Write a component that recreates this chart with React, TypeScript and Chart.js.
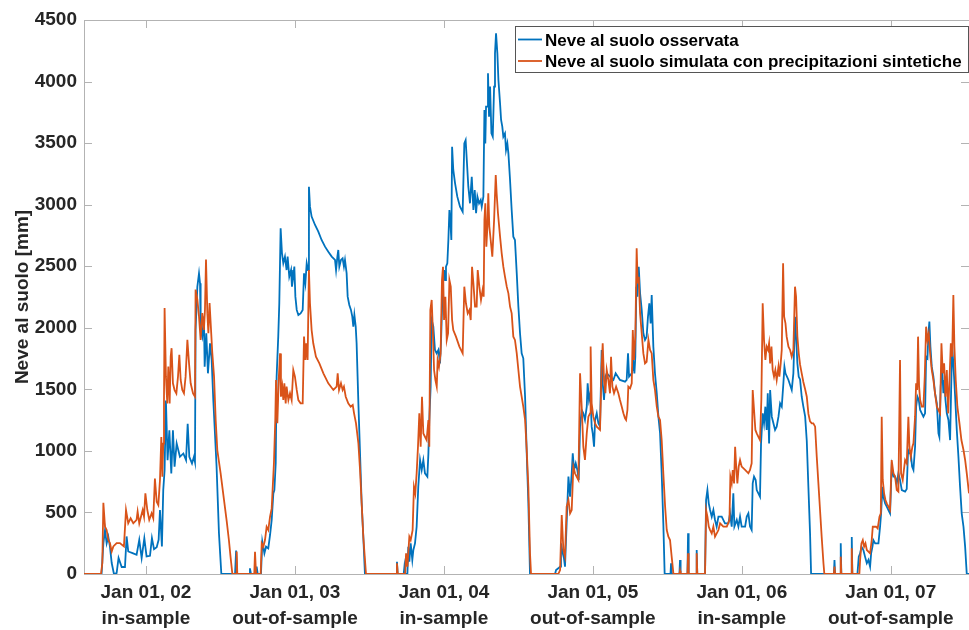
import React, { useEffect, useRef } from "react";
import { Chart, registerables } from "chart.js";

Chart.register(...registerables);

type P = [number, number];

// x = decimal year, y = snow depth [mm]
const obs0102: P[] = [[2001.584,0],[2001.702,0],[2001.714,249],[2001.725,357],[2001.736,249],[2001.747,303],[2001.758,224],[2001.770,89],[2001.785,0],[2001.803,8],[2001.816,130],[2001.837,57],[2001.859,57],[2001.870,305],[2001.881,183],[2001.910,170],[2001.937,156],[2001.955,278],[2001.971,130],[2001.989,291],[2002.004,143],[2002.027,148],[2002.040,291],[2002.054,202],[2002.072,218],[2002.085,278],[2002.094,520],[2002.107,224],[2002.116,682],[2002.125,844],[2002.134,1410],[2002.145,925],[2002.157,1167],[2002.170,817],[2002.181,1167],[2002.192,871],[2002.206,1060],[2002.228,952],[2002.251,979],[2002.269,925],[2002.280,1221],[2002.291,952],[2002.309,898],[2002.322,952],[2002.329,910],[2002.333,1982],[2002.345,2334],[2002.356,2442],[2002.363,2361],[2002.367,1982],[2002.378,1928],[2002.389,2091],[2002.394,1684],[2002.405,1955],[2002.416,1630],[2002.430,1873],[2002.441,1738],[2002.452,1413],[2002.463,1143],[2002.474,871],[2002.490,330],[2002.506,0],[2002.598,0],[2002.605,190],[2002.612,0]];
const sim0102: P[] = [[2001.584,0],[2001.698,0],[2001.707,89],[2001.714,579],[2001.725,385],[2001.736,358],[2001.747,278],[2001.758,251],[2001.770,183],[2001.781,224],[2001.803,251],[2001.825,251],[2001.852,224],[2001.866,520],[2001.881,412],[2001.897,453],[2001.915,412],[2001.937,439],[2001.944,507],[2001.955,412],[2001.978,520],[2001.987,466],[2001.996,655],[2002.009,520],[2002.022,439],[2002.038,493],[2002.049,453],[2002.060,776],[2002.072,587],[2002.083,560],[2002.094,763],[2002.103,1113],[2002.110,790],[2002.116,1059],[2002.121,1413],[2002.125,2160],[2002.134,1603],[2002.143,1386],[2002.150,1685],[2002.159,1386],[2002.166,1766],[2002.172,1834],[2002.181,1549],[2002.192,1494],[2002.204,1467],[2002.215,1603],[2002.224,1780],[2002.233,1576],[2002.244,1494],[2002.255,1467],[2002.266,1603],[2002.278,1902],[2002.289,1712],[2002.300,1549],[2002.316,1467],[2002.329,1440],[2002.333,2310],[2002.345,2228],[2002.356,2092],[2002.367,1902],[2002.378,2119],[2002.389,1983],[2002.396,2146],[2002.403,2554],[2002.412,2119],[2002.419,1956],[2002.427,2200],[2002.436,2000],[2002.445,1800],[2002.457,1603],[2002.468,1250],[2002.479,1005],[2002.501,820],[2002.524,600],[2002.542,430],[2002.557,272],[2002.568,136],[2002.580,0],[2002.605,0],[2002.609,183],[2002.613,0]];

const obs0203: P[] = [[2002.694,0],[2002.698,46],[2002.705,0],[2002.739,0],[2002.743,60],[2002.750,0],[2002.772,0],[2002.781,263],[2002.795,168],[2002.806,222],[2002.821,208],[2002.833,317],[2002.844,439],[2002.855,655],[2002.862,682],[2002.871,899],[2002.877,1603],[2002.888,1928],[2002.895,2199],[2002.904,2808],[2002.913,2605],[2002.922,2524],[2002.933,2578],[2002.944,2469],[2002.951,2578],[2002.962,2415],[2002.974,2469],[2002.980,2334],[2002.989,2415],[2002.996,2497],[2003.003,2253],[2003.012,2145],[2003.023,2104],[2003.038,2117],[2003.052,2145],[2003.061,2442],[2003.070,2361],[2003.079,2524],[2003.088,2469],[2003.094,3146],[2003.101,2984],[2003.112,2903],[2003.135,2835],[2003.157,2781],[2003.179,2713],[2003.202,2659],[2003.224,2618],[2003.247,2578],[2003.269,2551],[2003.276,2469],[2003.285,2578],[2003.291,2632],[2003.298,2497],[2003.309,2551],[2003.320,2564],[2003.329,2497],[2003.336,2551],[2003.347,2442],[2003.354,2253],[2003.365,2185],[2003.376,2145],[2003.385,2090],[2003.392,2009],[2003.399,2104],[2003.408,2009],[2003.414,1874],[2003.426,1386],[2003.437,980],[2003.448,574],[2003.459,303],[2003.470,0],[2003.679,0],[2003.685,100],[2003.690,0],[2003.730,0],[2003.735,60],[2003.740,0]];
const sim0203: P[] = [[2002.727,0],[2002.732,181],[2002.739,0],[2002.770,0],[2002.777,249],[2002.788,222],[2002.799,276],[2002.810,384],[2002.821,357],[2002.833,466],[2002.844,533],[2002.850,682],[2002.859,899],[2002.868,1251],[2002.873,1576],[2002.882,1224],[2002.891,1576],[2002.900,1792],[2002.906,1440],[2002.915,1522],[2002.922,1413],[2002.929,1549],[2002.938,1386],[2002.944,1522],[2002.956,1413],[2002.967,1468],[2002.978,1413],[2002.989,1657],[2003.000,1603],[2003.012,1495],[2003.023,1413],[2003.038,1386],[2003.052,1386],[2003.061,1928],[2003.070,1738],[2003.076,1874],[2003.085,1738],[2003.094,2469],[2003.101,2199],[2003.112,1982],[2003.123,1874],[2003.141,1765],[2003.164,1711],[2003.191,1630],[2003.224,1549],[2003.258,1495],[2003.280,1522],[2003.287,1630],[2003.296,1495],[2003.309,1549],[2003.320,1495],[2003.329,1522],[2003.341,1440],[2003.358,1386],[2003.374,1359],[2003.388,1373],[2003.397,1305],[2003.410,1224],[2003.426,1061],[2003.437,845],[2003.448,574],[2003.459,303],[2003.477,0],[2003.679,0],[2003.685,87],[2003.690,0]];

const obs0304: P[] = [[2003.755,0],[2003.761,222],[2003.768,100],[2003.777,249],[2003.788,114],[2003.795,195],[2003.806,249],[2003.817,384],[2003.828,709],[2003.840,926],[2003.851,845],[2003.862,926],[2003.873,818],[2003.889,791],[2003.896,980],[2003.902,1251],[2003.911,1522],[2003.918,2063],[2003.929,2009],[2003.940,1820],[2003.952,1792],[2003.963,1820],[2003.974,1711],[2003.981,1901],[2003.992,2334],[2004.001,2469],[2004.008,2388],[2004.014,2496],[2004.023,2523],[2004.030,2713],[2004.037,2957],[2004.043,2876],[2004.050,2713],[2004.055,3471],[2004.063,3282],[2004.075,3173],[2004.090,3065],[2004.108,2984],[2004.126,2943],[2004.137,3498],[2004.146,3525],[2004.155,3336],[2004.164,3146],[2004.175,3011],[2004.187,3227],[2004.198,2957],[2004.207,3119],[2004.216,2930],[2004.225,3065],[2004.236,3011],[2004.247,3038],[2004.254,2984],[2004.265,3065],[2004.272,3769],[2004.278,3498],[2004.283,3796],[2004.290,3796],[2004.296,4067],[2004.303,3715],[2004.310,3959],[2004.319,3579],[2004.328,3552],[2004.337,3959],[2004.343,4229],[2004.350,4392],[2004.359,4229],[2004.366,4013],[2004.377,3823],[2004.384,3688],[2004.392,3634],[2004.399,3552],[2004.410,3579],[2004.417,3444],[2004.426,3498],[2004.433,3417],[2004.444,3200],[2004.455,2957],[2004.466,2740],[2004.477,2713],[2004.489,2442],[2004.500,2172],[2004.511,1955],[2004.522,1792],[2004.533,1752],[2004.545,1440],[2004.556,980],[2004.567,574],[2004.578,0]];
const sim0304: P[] = [[2003.740,0],[2003.746,168],[2003.755,60],[2003.768,303],[2003.777,276],[2003.790,357],[2003.799,709],[2003.808,655],[2003.817,818],[2003.826,1034],[2003.835,1305],[2003.844,1034],[2003.853,1440],[2003.862,1142],[2003.873,1115],[2003.884,1088],[2003.896,1251],[2003.902,1034],[2003.909,2144],[2003.918,2226],[2003.925,2009],[2003.934,1657],[2003.943,1576],[2003.952,1522],[2003.958,1738],[2003.967,1684],[2003.978,1792],[2003.987,2388],[2003.994,2496],[2004.001,2063],[2004.010,2252],[2004.019,1901],[2004.028,1955],[2004.037,2388],[2004.046,2334],[2004.055,2063],[2004.063,1982],[2004.081,1928],[2004.104,1847],[2004.126,1792],[2004.137,2334],[2004.148,2199],[2004.160,2117],[2004.171,2144],[2004.180,2063],[2004.189,2496],[2004.198,2361],[2004.209,2172],[2004.220,2172],[2004.227,2469],[2004.238,2334],[2004.249,2226],[2004.260,2307],[2004.267,2253],[2004.272,2876],[2004.278,3011],[2004.285,2659],[2004.292,2822],[2004.298,3092],[2004.305,2822],[2004.314,2713],[2004.325,2578],[2004.337,2876],[2004.348,3240],[2004.354,3092],[2004.363,2930],[2004.377,2740],[2004.388,2605],[2004.399,2496],[2004.410,2415],[2004.422,2334],[2004.433,2280],[2004.444,2172],[2004.455,2117],[2004.466,1928],[2004.477,1901],[2004.489,1792],[2004.500,1657],[2004.511,1522],[2004.522,1440],[2004.533,1359],[2004.545,1251],[2004.556,1007],[2004.567,709],[2004.578,168],[2004.585,0]];

const obs0405: P[] = [[2004.746,0],[2004.753,32],[2004.768,46],[2004.780,60],[2004.786,249],[2004.798,168],[2004.806,127],[2004.813,60],[2004.824,412],[2004.836,791],[2004.847,628],[2004.858,818],[2004.865,980],[2004.874,845],[2004.885,899],[2004.896,845],[2004.905,764],[2004.914,1197],[2004.925,1332],[2004.936,1305],[2004.947,1251],[2004.959,1359],[2004.965,1549],[2004.974,1413],[2004.983,1468],[2004.992,1197],[2004.999,1143],[2005.008,1034],[2005.015,1251],[2005.026,1305],[2005.037,1224],[2005.048,1197],[2005.059,1820],[2005.066,1549],[2005.075,1413],[2005.084,1603],[2005.093,1630],[2005.115,1603],[2005.138,1576],[2005.153,1630],[2005.182,1576],[2005.216,1562],[2005.227,1576],[2005.236,1792],[2005.243,1603],[2005.261,1630],[2005.272,1711],[2005.279,1630],[2005.285,1765],[2005.292,2334],[2005.299,2253],[2005.308,2496],[2005.317,2280],[2005.328,2144],[2005.339,1955],[2005.350,1901],[2005.361,1928],[2005.370,2090],[2005.379,2199],[2005.388,2036],[2005.395,2266],[2005.406,1847],[2005.417,1630],[2005.429,1468],[2005.440,1278],[2005.451,1143],[2005.462,818],[2005.473,412],[2005.482,0],[2005.521,0],[2005.525,87],[2005.529,0],[2005.581,0],[2005.585,114],[2005.589,0],[2005.635,0],[2005.639,330],[2005.643,0],[2005.693,0],[2005.697,195],[2005.701,0]];
const sim0405: P[] = [[2004.768,0],[2004.780,32],[2004.791,479],[2004.802,195],[2004.813,141],[2004.824,547],[2004.836,601],[2004.847,493],[2004.858,520],[2004.869,872],[2004.880,818],[2004.891,791],[2004.903,764],[2004.914,1630],[2004.925,1359],[2004.936,1034],[2004.947,926],[2004.959,1143],[2004.970,1278],[2004.981,1305],[2004.985,1847],[2004.992,1386],[2005.003,1278],[2005.015,1224],[2005.026,1197],[2005.048,1170],[2005.059,1684],[2005.066,1874],[2005.075,1576],[2005.084,1468],[2005.093,1657],[2005.104,1576],[2005.115,1468],[2005.122,1765],[2005.131,1522],[2005.142,1468],[2005.156,1522],[2005.171,1468],[2005.182,1413],[2005.194,1359],[2005.205,1305],[2005.216,1264],[2005.223,1251],[2005.232,1332],[2005.238,1522],[2005.250,1508],[2005.261,1549],[2005.268,1982],[2005.276,1738],[2005.285,1928],[2005.294,2645],[2005.301,2361],[2005.308,2415],[2005.317,2117],[2005.328,1955],[2005.339,1792],[2005.350,1711],[2005.361,1724],[2005.373,1901],[2005.384,1820],[2005.395,1792],[2005.406,1576],[2005.417,1495],[2005.429,1359],[2005.440,1278],[2005.451,1251],[2005.462,1088],[2005.473,818],[2005.485,547],[2005.496,357],[2005.507,303],[2005.518,276],[2005.529,141],[2005.541,0],[2005.581,0],[2005.585,27],[2005.589,0],[2005.635,0],[2005.639,168],[2005.643,0],[2005.693,0],[2005.697,168],[2005.701,0]];

const obs0506: P[] = [[2005.753,0],[2005.760,601],[2005.769,682],[2005.778,574],[2005.787,520],[2005.798,466],[2005.809,520],[2005.820,439],[2005.831,385],[2005.843,466],[2005.865,466],[2005.887,412],[2005.910,412],[2005.921,493],[2005.932,385],[2005.943,655],[2005.950,385],[2005.966,439],[2005.977,385],[2005.988,466],[2005.999,385],[2006.022,385],[2006.033,466],[2006.044,493],[2006.055,385],[2006.066,357],[2006.073,736],[2006.082,791],[2006.093,764],[2006.100,682],[2006.111,655],[2006.122,628],[2006.129,1061],[2006.140,1305],[2006.149,1224],[2006.158,1359],[2006.167,1170],[2006.174,1468],[2006.183,1061],[2006.190,1495],[2006.201,1278],[2006.212,1224],[2006.223,1170],[2006.234,1197],[2006.246,1278],[2006.257,1386],[2006.268,1359],[2006.279,1549],[2006.286,1684],[2006.293,1630],[2006.313,1576],[2006.335,1495],[2006.346,1630],[2006.357,2090],[2006.364,1928],[2006.373,1711],[2006.382,1603],[2006.391,1580],[2006.402,1440],[2006.413,1359],[2006.425,1280],[2006.436,1080],[2006.447,700],[2006.458,330],[2006.465,0],[2006.618,0],[2006.622,114],[2006.626,0],[2006.660,0],[2006.664,249],[2006.668,0],[2006.734,0],[2006.738,300],[2006.742,0]];
const sim0506: P[] = [[2005.753,0],[2005.760,520],[2005.769,466],[2005.778,385],[2005.787,357],[2005.798,330],[2005.809,385],[2005.820,303],[2005.843,357],[2005.854,412],[2005.876,385],[2005.899,385],[2005.917,439],[2005.923,791],[2005.932,736],[2005.939,845],[2005.948,736],[2005.955,1034],[2005.961,899],[2005.970,736],[2005.979,872],[2005.988,926],[2005.999,872],[2006.022,845],[2006.044,818],[2006.055,845],[2006.066,899],[2006.073,1495],[2006.082,1332],[2006.091,1170],[2006.100,1143],[2006.122,1088],[2006.131,1413],[2006.140,2199],[2006.149,1901],[2006.158,1738],[2006.167,1847],[2006.176,1820],[2006.183,1874],[2006.190,1711],[2006.199,1847],[2006.207,1657],[2006.216,1603],[2006.225,1657],[2006.234,1576],[2006.246,1684],[2006.252,1603],[2006.261,1711],[2006.268,1820],[2006.277,2524],[2006.284,2090],[2006.293,2036],[2006.301,1928],[2006.313,1847],[2006.324,1820],[2006.335,1765],[2006.346,1820],[2006.357,2334],[2006.364,2253],[2006.373,1928],[2006.382,1793],[2006.391,1700],[2006.402,1630],[2006.413,1560],[2006.425,1500],[2006.436,1440],[2006.447,1300],[2006.458,1240],[2006.469,1224],[2006.480,1224],[2006.492,1197],[2006.503,953],[2006.514,736],[2006.525,520],[2006.536,303],[2006.548,87],[2006.554,0],[2006.618,0],[2006.622,60],[2006.626,0],[2006.660,0],[2006.664,141],[2006.668,0],[2006.734,0],[2006.738,210],[2006.742,0]];

const obs0607: P[] = [[2006.776,0],[2006.785,141],[2006.794,168],[2006.803,222],[2006.816,195],[2006.827,141],[2006.839,87],[2006.850,114],[2006.861,60],[2006.868,168],[2006.877,222],[2006.883,276],[2006.895,249],[2006.917,249],[2006.928,384],[2006.935,493],[2006.944,709],[2006.950,628],[2006.962,574],[2006.973,547],[2006.984,520],[2006.995,493],[2007.006,872],[2007.018,791],[2007.029,791],[2007.040,736],[2007.051,818],[2007.062,764],[2007.074,682],[2007.096,669],[2007.107,690],[2007.116,1007],[2007.125,980],[2007.134,980],[2007.143,872],[2007.152,845],[2007.163,1034],[2007.170,1359],[2007.179,1440],[2007.188,1413],[2007.197,1332],[2007.208,1305],[2007.219,1278],[2007.230,1305],[2007.237,1765],[2007.246,1752],[2007.253,1955],[2007.259,2050],[2007.266,1847],[2007.275,1684],[2007.286,1603],[2007.297,1468],[2007.309,1386],[2007.320,1143],[2007.326,1115],[2007.335,1522],[2007.344,1684],[2007.353,1468],[2007.360,1576],[2007.367,1413],[2007.376,1305],[2007.387,1251],[2007.398,1088],[2007.405,1495],[2007.412,1847],[2007.420,1711],[2007.432,1440],[2007.443,1170],[2007.454,953],[2007.465,709],[2007.476,493],[2007.488,384],[2007.499,222],[2007.510,0],[2007.525,0]];
const sim0607: P[] = [[2006.789,0],[2006.794,114],[2006.803,249],[2006.812,276],[2006.821,222],[2006.830,249],[2006.839,195],[2006.861,168],[2006.872,276],[2006.879,384],[2006.901,384],[2006.912,370],[2006.924,466],[2006.933,493],[2006.939,1278],[2006.946,764],[2006.955,655],[2006.964,601],[2006.973,574],[2006.984,547],[2006.995,520],[2007.006,926],[2007.018,818],[2007.029,791],[2007.040,682],[2007.051,669],[2007.062,1738],[2007.069,818],[2007.080,764],[2007.096,926],[2007.107,899],[2007.118,1278],[2007.125,1034],[2007.134,953],[2007.145,1034],[2007.152,1061],[2007.163,1278],[2007.170,1549],[2007.177,1495],[2007.183,1928],[2007.190,1522],[2007.197,1413],[2007.208,1359],[2007.219,1359],[2007.228,1603],[2007.237,2009],[2007.246,1901],[2007.255,1955],[2007.264,1792],[2007.275,1657],[2007.286,1576],[2007.297,1468],[2007.309,1359],[2007.320,1332],[2007.331,1305],[2007.340,1874],[2007.349,1630],[2007.358,1711],[2007.367,1440],[2007.376,1657],[2007.385,1305],[2007.394,1576],[2007.403,1874],[2007.412,1765],[2007.420,2266],[2007.427,1847],[2007.436,1576],[2007.447,1359],[2007.461,1224],[2007.474,1088],[2007.488,1007],[2007.499,926],[2007.510,818],[2007.525,655]];

const seriesLabels = ["Neve al suolo osservata", "Neve al suolo simulata con precipitazioni sintetiche"];
const seriesColors = ["#0072BD", "#D95319"];
const tickYears = [2002, 2003, 2004, 2005, 2006, 2007];
const tickDates = ["Jan 01, 02", "Jan 01, 03", "Jan 01, 04", "Jan 01, 05", "Jan 01, 06", "Jan 01, 07"];
const tickSamples = ["in-sample", "out-of-sample", "in-sample", "out-of-sample", "in-sample", "out-of-sample"];
const yTicks = [0, 500, 1000, 1500, 2000, 2500, 3000, 3500, 4000, 4500];
const yTitle = "Neve al suolo [mm]";
const X_MIN = 2001.584;
const X_MAX = 2007.525;

const FONT = "'Liberation Sans', Arial, Helvetica, sans-serif";
const TEXT = "#262626";
const AXIS = "#b3b3b3";

const toXY = (arr: P[][]) => arr.flat().map(([x, y]) => ({ x, y }));

const framePlugin = {
  id: "frame",
  beforeDatasetsDraw(chart: any) {
    const { ctx, chartArea: a, scales } = chart;
    ctx.save();
    ctx.strokeStyle = AXIS;
    ctx.lineWidth = 1;
    ctx.strokeRect(a.left + 0.5, a.top + 0.5, a.right - a.left, a.bottom - a.top);
    const L = 8;
    ctx.beginPath();
    for (const v of tickYears) {
      const px = Math.round(scales.x.getPixelForValue(v)) + 0.5;
      ctx.moveTo(px, a.bottom); ctx.lineTo(px, a.bottom - L);
      ctx.moveTo(px, a.top); ctx.lineTo(px, a.top + L);
    }
    for (const v of yTicks) {
      const py = Math.round(scales.y.getPixelForValue(v)) + 0.5;
      ctx.moveTo(a.left, py); ctx.lineTo(a.left + L, py);
      ctx.moveTo(a.right, py); ctx.lineTo(a.right - L, py);
    }
    ctx.stroke();
    // y-axis title
    ctx.fillStyle = TEXT;
    ctx.font = `bold 19px ${FONT}`;
    ctx.textAlign = "center";
    ctx.textBaseline = "alphabetic";
    ctx.translate(28, (a.top + a.bottom) / 2);
    ctx.rotate(-Math.PI / 2);
    ctx.fillText(yTitle, 0, 0);
    ctx.restore();
  },
};

const legendPlugin = {
  id: "boxLegend",
  afterDraw(chart: any) {
    const { ctx } = chart;
    const left = 515.5, top = 26.5, right = 968.5, bottom = 72.5;
    ctx.save();
    ctx.fillStyle = "#ffffff";
    ctx.fillRect(left, top, right - left, bottom - top);
    ctx.strokeStyle = "#555555";
    ctx.lineWidth = 1;
    ctx.strokeRect(left, top, right - left, bottom - top);
    ctx.font = `bold 17px ${FONT}`;
    ctx.textAlign = "left";
    ctx.textBaseline = "alphabetic";
    const rows = [39.5, 61];
    chart.data.datasets.forEach((ds: any, i: number) => {
      const y = rows[i];
      ctx.strokeStyle = ds.borderColor;
      ctx.lineWidth = 1.8;
      ctx.beginPath();
      ctx.moveTo(518, y);
      ctx.lineTo(542, y);
      ctx.stroke();
      ctx.fillStyle = "#000000";
      ctx.fillText(ds.label, 545, y + 6);
    });
    ctx.restore();
  },
};

export default function App() {
  const ref = useRef<HTMLCanvasElement>(null);
  useEffect(() => {
    if (!ref.current) return;
    const observed = toXY([obs0102, obs0203, obs0304, obs0405, obs0506, obs0607]);
    const simulated = toXY([sim0102, sim0203, sim0304, sim0405, sim0506, sim0607]);
    const chart = new Chart(ref.current, {
      type: "line",
      data: {
        datasets: [
          { label: seriesLabels[0], data: observed, borderColor: seriesColors[0], backgroundColor: seriesColors[0], borderWidth: 1.8, pointRadius: 0, tension: 0, fill: false, order: 1 },
          { label: seriesLabels[1], data: simulated, borderColor: seriesColors[1], backgroundColor: seriesColors[1], borderWidth: 1.8, pointRadius: 0, tension: 0, fill: false, order: 0 },
        ],
      },
      options: {
        responsive: false,
        animation: false,
        events: [],
        layout: { padding: { left: 0, top: 20, right: 0, bottom: 0 } },
        plugins: { legend: { display: false }, tooltip: { enabled: false } },
        scales: {
          x: {
            type: "linear",
            min: X_MIN,
            max: X_MAX,
            grid: { display: false, drawTicks: false },
            border: { display: false },
            afterBuildTicks: (s: any) => { s.ticks = tickYears.map((v) => ({ value: v })); },
            afterFit: (s: any) => { s.height = 56; },
            ticks: {
              autoSkip: false,
              maxRotation: 0,
              minRotation: 0,
              padding: 6,
              color: TEXT,
              font: { family: FONT, size: 19, weight: "bold", lineHeight: 1.35 },
              callback: (_v: any, i: number) => [tickDates[i], tickSamples[i]],
            },
          },
          y: {
            type: "linear",
            min: 0,
            max: 4500,
            grid: { display: false, drawTicks: false },
            border: { display: false },
            afterBuildTicks: (s: any) => { s.ticks = yTicks.map((v) => ({ value: v })); },
            afterFit: (s: any) => { s.width = 84; },
            ticks: {
              padding: 7,
              color: TEXT,
              font: { family: FONT, size: 19, weight: "bold" },
              callback: (v: any) => String(v),
            },
          },
        },
      } as any,
      plugins: [framePlugin, legendPlugin],
    });
    return () => chart.destroy();
  }, []);
  return (
    <div style={{ position: "fixed", left: 0, top: 0, width: 969, height: 630, background: "#ffffff" }}>
      <canvas ref={ref} width={969} height={630} style={{ display: "block" }} />
    </div>
  );
}
